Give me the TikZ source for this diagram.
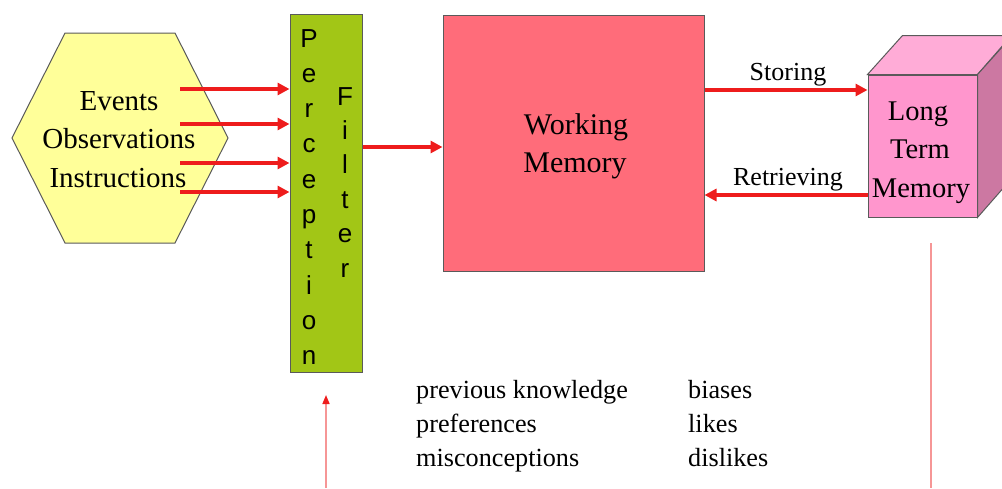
\documentclass[tikz,border=0pt]{standalone}
\usepackage{fontspec}
\setmainfont{Liberation Serif}
\setsansfont{Liberation Sans}
\usetikzlibrary{arrows.meta}

\definecolor{hexfill}{RGB}{255,255,153}
\definecolor{edgegray}{RGB}{90,90,90}
\definecolor{filtergreen}{RGB}{162,198,22}
\definecolor{wmred}{RGB}{255,108,122}
\definecolor{ltmfront}{RGB}{255,150,205}
\definecolor{ltmtop}{RGB}{255,172,215}
\definecolor{ltmside}{RGB}{204,120,162}
\definecolor{arrred}{RGB}{238,28,28}
\definecolor{faintred}{RGB}{246,150,150}

\tikzset{
  serif/.style={font=\fontsize{29}{29}\selectfont, inner sep=0pt, anchor=base},
  wmtext/.style={font=\fontsize{30}{30}\selectfont, inner sep=0pt, anchor=base},
  cubetext/.style={font=\fontsize{28.5}{28.5}\selectfont, inner sep=0pt, anchor=base},
  small/.style={font=\fontsize{26}{26}\selectfont, inner sep=0pt, anchor=base},
  letter/.style={font=\sffamily\fontsize{26}{26}\selectfont, inner sep=0pt, anchor=base},
  listtext/.style={font=\fontsize{26.2}{26.2}\selectfont, inner sep=0pt, anchor=base west},
  box/.style={draw=edgegray, line width=1pt, inner sep=0pt},
  flow/.style={draw=arrred, line width=3.5pt, -{Triangle[length=12pt,width=12pt]}},
  thinflow/.style={draw=faintred, line width=1.6pt, -{Triangle[length=9pt,width=7pt,color=arrred]}},
  thinline/.style={draw=faintred, line width=1.6pt},
}

\begin{document}
\begin{tikzpicture}[x=1pt,y=-1pt]
\useasboundingbox (0,0) rectangle (1002,488);

% input hexagon
\draw[box, fill=hexfill] (12,138) -- (65,33) -- (175,33) -- (228,138) -- (175,243) -- (65,243) -- cycle;
\node[serif] (events) at (119,110) {Events};
\node[serif] (obs) at (119,148) {Observations};
\node[serif] (instr) at (118,187) {Instructions};

% perception filter
\node[box, fill=filtergreen, minimum width=72pt, minimum height=358pt] (filter) at (326,193.5) {};
\foreach \ch [count=\i from 0] in {P,e,r,c,e,p,t,i,o,n}
  \node[letter] (p\i) at (309,47+35.3*\i) {\ch};
\foreach \ch [count=\i from 0] in {F,i,l,t,e,r}
  \node[letter] (f\i) at (345,105+34.4*\i) {\ch};

% working memory
\node[box, fill=wmred, minimum width=261pt, minimum height=256pt] (wm) at (573.5,143) {};
\node[wmtext] (wm1) at (576,134) {Working};
\node[wmtext] (wm2) at (575,172) {Memory};

% long term memory cube
\node[box, fill=ltmfront, minimum width=109pt, minimum height=142pt] (ltm) at (922.5,146) {};
\draw[box, fill=ltmtop] (ltm.north west) -- ++(35,-39) -- ++(109,0) -- (ltm.north east) -- cycle;
\draw[box, fill=ltmside] (ltm.north east) -- ++(35,-39) -- ++(0,142) -- (ltm.south east) -- cycle;
\node[cubetext] (ltm1) at (918,120) {Long};
\node[cubetext] (ltm2) at (920,158) {Term};
\node[cubetext] (ltm3) at (921,197) {Memory};

% input arrows
\foreach \y [count=\i] in {89,124,163,192} {
  \coordinate (in\i) at (180,\y);
  \draw[flow] (in\i) -- (filter.west |- in\i);
}
\draw[flow] (filter.east |- 0,147) -- (wm.west |- 0,147);

% storing and retrieving
\draw[flow] (wm.east |- 0,90) -- (ltm.west |- 0,90);
\draw[flow] (ltm.west |- 0,195) -- (wm.east |- 0,195);
\node[small] (store) at (788,80) {Storing};
\node[small] (retr) at (788,185) {Retrieving};

% influences
\coordinate (srcA) at (326,488);
\coordinate (tipA) at (326,395);
\draw[thinflow] (srcA) -- (tipA);
\coordinate (srcB) at (931,243);
\coordinate (endB) at (931,488);
\draw[thinline] (srcB) -- (endB);

\node[listtext] (k1) at (416,398) {previous knowledge};
\node[listtext] (k2) at (416,432) {preferences};
\node[listtext] (k3) at (416,466) {misconceptions};
\node[listtext] (b1) at (688,398) {biases};
\node[listtext] (b2) at (688,432) {likes};
\node[listtext] (b3) at (688,466) {dislikes};
\end{tikzpicture}
\end{document}
